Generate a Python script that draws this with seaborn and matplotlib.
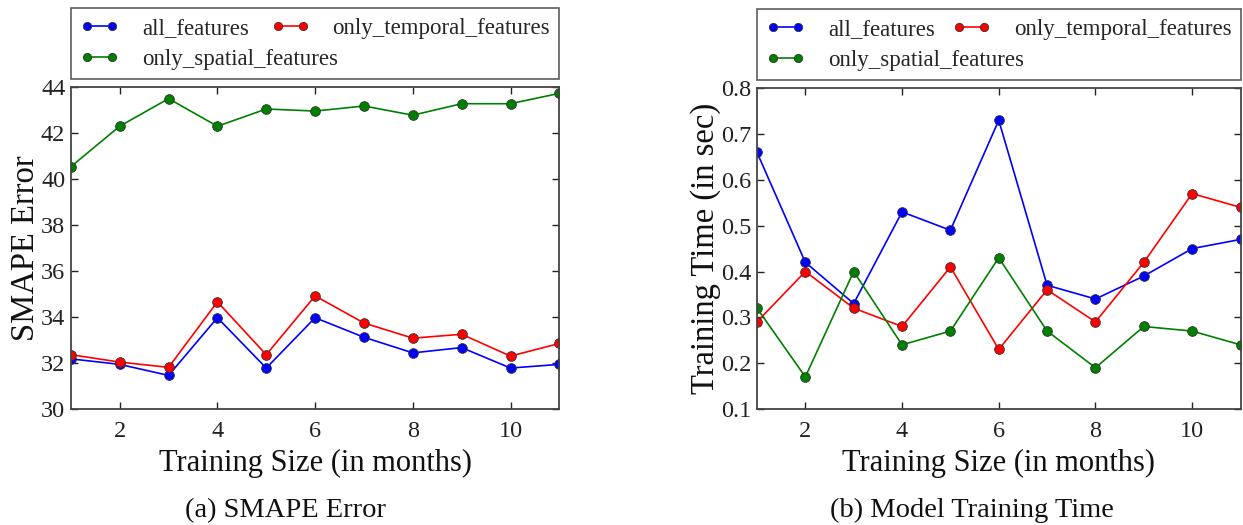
import numpy as np
import pandas as pd
import matplotlib
matplotlib.use("Agg")
import matplotlib.pyplot as plt
import seaborn as sns

# Training window sizes (months)
months = [1, 2, 3, 4, 5, 6, 7, 8, 9, 10, 11]

# SMAPE error per feature set
smape_all = [32.18, 31.94, 31.46, 33.97, 31.78, 33.97, 33.12, 32.44, 32.67, 31.78, 31.94]
smape_temporal = [32.36, 32.04, 31.81, 34.66, 32.36, 34.92, 33.74, 33.08, 33.25, 32.30, 32.85]
smape_spatial = [40.54, 42.30, 43.50, 42.30, 43.05, 42.96, 43.18, 42.78, 43.28, 43.28, 43.73]

# Model training time (seconds) per feature set
time_all = [0.66, 0.42, 0.33, 0.53, 0.49, 0.73, 0.37, 0.34, 0.39, 0.45, 0.47]
time_temporal = [0.29, 0.40, 0.32, 0.28, 0.41, 0.23, 0.36, 0.29, 0.42, 0.57, 0.54]
time_spatial = [0.32, 0.17, 0.40, 0.24, 0.27, 0.43, 0.27, 0.19, 0.28, 0.27, 0.24]

series_names = ["all_features", "only_temporal_features", "only_spatial_features"]
palette = {"all_features": "#0000ff",
           "only_temporal_features": "#ff0000",
           "only_spatial_features": "#008000"}

x_ticks = [2, 4, 6, 8, 10]
smape_ticks = [30, 32, 34, 36, 38, 40, 42, 44]
time_ticks = [0.1, 0.2, 0.3, 0.4, 0.5, 0.6, 0.7, 0.8]


def long_frame(a, t, s, name):
    return pd.DataFrame({
        "month": months * 3,
        name: a + t + s,
        "features": [series_names[0]] * len(months)
        + [series_names[1]] * len(months)
        + [series_names[2]] * len(months),
    })


sns.set_style("ticks", {
    "xtick.direction": "in", "ytick.direction": "in",
    "axes.edgecolor": "#333333",
})
plt.rcParams["font.family"] = ["Liberation Serif", "DejaVu Serif"]
plt.rcParams["xtick.top"] = True
plt.rcParams["ytick.right"] = True
plt.rcParams["axes.linewidth"] = 1.3

fig = plt.figure(figsize=(12.43, 5.25), dpi=100)
ax1 = fig.add_axes([0.057, 0.221, 0.393, 0.613])
ax2 = fig.add_axes([0.609, 0.221, 0.389, 0.611])

panels = [
    (ax1, long_frame(smape_all, smape_temporal, smape_spatial, "smape"), "smape",
     "SMAPE Error", (30, 44), smape_ticks, "%d", "(a) SMAPE Error", 0.230),
    (ax2, long_frame(time_all, time_temporal, time_spatial, "time"), "time",
     "Training Time (in sec)", (0.1, 0.8), time_ticks, "%.1f", "(b) Model Training Time", 0.782),
]

for ax, df, col, ylabel, ylim, yticks, fmt, caption, cx in panels:
    sns.lineplot(data=df, x="month", y=col, hue="features", hue_order=series_names,
                 palette=palette, marker="o", markersize=7, markeredgecolor="#333333",
                 markeredgewidth=0.6, linewidth=1.2, ax=ax, legend=True)
    ax.set_xlim(1, 11)
    ax.set_ylim(*ylim)
    ax.set_xticks(x_ticks)
    ax.set_yticks(yticks)
    ax.set_yticklabels([fmt % v for v in yticks])
    ax.tick_params(labelsize=17.5, length=5, width=1, colors="#222222")
    ax.tick_params(axis="x", pad=9)
    ax.tick_params(axis="y", pad=4)
    ax.set_xlabel("Training Size (in months)", fontsize=22, color="#111111", labelpad=5)
    ax.set_ylabel(ylabel, fontsize=23.5, color="#111111", labelpad=0)
    for sp in ax.spines.values():
        sp.set_color("#444444")

    handles, labels = ax.get_legend_handles_labels()
    lookup = dict(zip(labels, handles))
    order = ["all_features", "only_spatial_features", "only_temporal_features"]
    leg = ax.legend([lookup[k] for k in order], order, ncol=2, loc="lower left",
                    bbox_to_anchor=(0.0, 1.025, 1.0, 0.2), mode="expand",
                    fontsize=16.5, frameon=True, fancybox=False, borderaxespad=0,
                    numpoints=2, markerscale=0.85,
                    handlelength=1.7, columnspacing=0.8, handletextpad=1.0,
                    borderpad=0.4, labelspacing=0.45)
    leg.get_frame().set_edgecolor("#333333")
    leg.get_frame().set_linewidth(1.2)
    fig.text(cx, 0.003, caption, ha="center", va="bottom", fontsize=20.5, color="#111111")

fig.savefig("out.png", dpi=100)
